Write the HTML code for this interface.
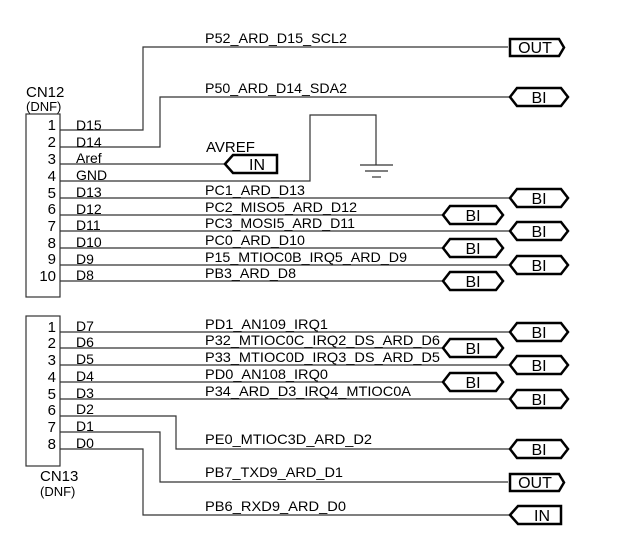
<!DOCTYPE html>
<html><head><style>body{margin:0;background:#fff}svg{display:block}text{font-family:"Liberation Sans",sans-serif;font-size:14px;fill:#000}.b{font-size:16px}.n{font-size:15px}</style></head><body>
<svg width="620" height="539" viewBox="0 0 620 539">
<g fill="none" stroke="#333" stroke-width="1.2">
<rect x="26" y="114" width="34" height="183"/>
<rect x="26" y="316" width="34" height="150"/>
<polyline points="60,130 143,130 143,47 508,47"/>
<polyline points="60,147 160,147 160,97 510,97"/>
<line x1="60" y1="164" x2="225" y2="164"/>
<polyline points="60,181 310,181 310,115 376,115 376,165"/>
<line x1="60" y1="198" x2="510" y2="198"/>
<line x1="60" y1="215" x2="443" y2="215"/>
<line x1="60" y1="231" x2="510" y2="231"/>
<line x1="60" y1="248" x2="443" y2="248"/>
<line x1="60" y1="265" x2="510" y2="265"/>
<line x1="60" y1="281" x2="443" y2="281"/>
<line x1="60" y1="332" x2="510" y2="332"/>
<line x1="60" y1="348" x2="443" y2="348"/>
<line x1="60" y1="365" x2="510" y2="365"/>
<line x1="60" y1="382" x2="443" y2="382"/>
<line x1="60" y1="399" x2="510" y2="399"/>
<polyline points="60,416 176,416 176,449 510,449"/>
<polyline points="60,432 160,432 160,482 508,482"/>
<polyline points="60,449 143,449 143,515 510,515"/>
<line x1="360" y1="165" x2="393" y2="165"/>
<line x1="365" y1="171" x2="388" y2="171"/>
<line x1="372" y1="177" x2="381" y2="177"/>
</g>
<g fill="#fff" stroke="#000" stroke-width="2.5">
<path d="M510,56 L510,39 L559,39 L564,47.5 L559,56 Z"/>
<path d="M510,97 L517,88 L561,88 L568,97 L561,106 L517,106 Z"/>
<path d="M225,164 L233,155 L277,155 L277,173 L233,173 Z"/>
<path d="M510,198 L517,189 L561,189 L568,198 L561,207 L517,207 Z"/>
<path d="M443,215 L450,206 L496,206 L503,215 L496,224 L450,224 Z"/>
<path d="M510,231 L517,222 L561,222 L568,231 L561,240 L517,240 Z"/>
<path d="M443,248 L450,239 L496,239 L503,248 L496,257 L450,257 Z"/>
<path d="M510,265 L517,256 L561,256 L568,265 L561,274 L517,274 Z"/>
<path d="M443,281 L450,272 L496,272 L503,281 L496,290 L450,290 Z"/>
<path d="M510,332 L517,323 L561,323 L568,332 L561,341 L517,341 Z"/>
<path d="M443,348 L450,339 L496,339 L503,348 L496,357 L450,357 Z"/>
<path d="M510,365 L517,356 L561,356 L568,365 L561,374 L517,374 Z"/>
<path d="M443,382 L450,373 L496,373 L503,382 L496,391 L450,391 Z"/>
<path d="M510,399 L517,390 L561,390 L568,399 L561,408 L517,408 Z"/>
<path d="M510,449 L517,440 L561,440 L568,449 L561,458 L517,458 Z"/>
<path d="M510,491 L510,474 L559,474 L564,482.5 L559,491 Z"/>
<path d="M510,515 L518,506 L561,506 L561,524 L518,524 Z"/>
</g>
<g text-anchor="middle">
<text class="b" x="535" y="53">OUT</text>
<text class="b" x="539" y="103">BI</text>
<text class="b" x="257" y="170">IN</text>
<text class="b" x="539" y="204">BI</text>
<text class="b" x="473" y="221">BI</text>
<text class="b" x="539" y="237">BI</text>
<text class="b" x="473" y="254">BI</text>
<text class="b" x="539" y="271">BI</text>
<text class="b" x="473" y="287">BI</text>
<text class="b" x="539" y="338">BI</text>
<text class="b" x="473" y="354">BI</text>
<text class="b" x="539" y="371">BI</text>
<text class="b" x="473" y="388">BI</text>
<text class="b" x="539" y="405">BI</text>
<text class="b" x="539" y="455">BI</text>
<text class="b" x="535" y="488">OUT</text>
<text class="b" x="542" y="521">IN</text>
</g>
<text class="n" x="26" y="97">CN12</text><text x="26" y="111" style="font-size:13px">(DNF)</text>
<text class="n" x="40" y="481">CN13</text><text x="40" y="496" style="font-size:13px">(DNF)</text>
<text class="n" x="206" y="152">AVREF</text>
<g text-anchor="end">
<text class="n" x="56" y="130">1</text><text class="n" x="56" y="147">2</text><text class="n" x="56" y="164">3</text><text class="n" x="56" y="181">4</text><text class="n" x="56" y="198">5</text><text class="n" x="56" y="214">6</text><text class="n" x="56" y="231">7</text><text class="n" x="56" y="248">8</text><text class="n" x="56" y="264">9</text><text class="n" x="56" y="281">10</text>
<text class="n" x="56" y="332">1</text><text class="n" x="56" y="348">2</text><text class="n" x="56" y="365">3</text><text class="n" x="56" y="382">4</text><text class="n" x="56" y="399">5</text><text class="n" x="56" y="415">6</text><text class="n" x="56" y="432">7</text><text class="n" x="56" y="449">8</text>
</g>
<g>
<text x="76" y="130">D15</text><text x="76" y="147">D14</text><text x="76" y="163">Aref</text><text x="76" y="180">GND</text><text x="76" y="197">D13</text><text x="76" y="214">D12</text><text x="76" y="230">D11</text><text x="76" y="247">D10</text><text x="76" y="264">D9</text><text x="76" y="280">D8</text>
<text x="76" y="331">D7</text><text x="76" y="347">D6</text><text x="76" y="364">D5</text><text x="76" y="381">D4</text><text x="76" y="398">D3</text><text x="76" y="414">D2</text><text x="76" y="431">D1</text><text x="76" y="448">D0</text>
</g>
<g>
<text x="205" y="43" textLength="142" lengthAdjust="spacingAndGlyphs">P52_ARD_D15_SCL2</text>
<text x="205" y="93" textLength="142" lengthAdjust="spacingAndGlyphs">P50_ARD_D14_SDA2</text>
<text x="205" y="195" textLength="100" lengthAdjust="spacingAndGlyphs">PC1_ARD_D13</text>
<text x="205" y="212" textLength="152" lengthAdjust="spacingAndGlyphs">PC2_MISO5_ARD_D12</text>
<text x="205" y="228" textLength="150" lengthAdjust="spacingAndGlyphs">PC3_MOSI5_ARD_D11</text>
<text x="205" y="245" textLength="100" lengthAdjust="spacingAndGlyphs">PC0_ARD_D10</text>
<text x="205" y="262" textLength="202" lengthAdjust="spacingAndGlyphs">P15_MTIOC0B_IRQ5_ARD_D9</text>
<text x="205" y="278" textLength="91" lengthAdjust="spacingAndGlyphs">PB3_ARD_D8</text>
<text x="205" y="329" textLength="123" lengthAdjust="spacingAndGlyphs">PD1_AN109_IRQ1</text>
<text x="205" y="345" textLength="235" lengthAdjust="spacingAndGlyphs">P32_MTIOC0C_IRQ2_DS_ARD_D6</text>
<text x="205" y="362" textLength="235" lengthAdjust="spacingAndGlyphs">P33_MTIOC0D_IRQ3_DS_ARD_D5</text>
<text x="205" y="379" textLength="123" lengthAdjust="spacingAndGlyphs">PD0_AN108_IRQ0</text>
<text x="205" y="396" textLength="206" lengthAdjust="spacingAndGlyphs">P34_ARD_D3_IRQ4_MTIOC0A</text>
<text x="205" y="444" textLength="167" lengthAdjust="spacingAndGlyphs">PE0_MTIOC3D_ARD_D2</text>
<text x="205" y="477" textLength="138" lengthAdjust="spacingAndGlyphs">PB7_TXD9_ARD_D1</text>
<text x="205" y="511" textLength="141" lengthAdjust="spacingAndGlyphs">PB6_RXD9_ARD_D0</text>
</g>
</svg>
</body></html>
